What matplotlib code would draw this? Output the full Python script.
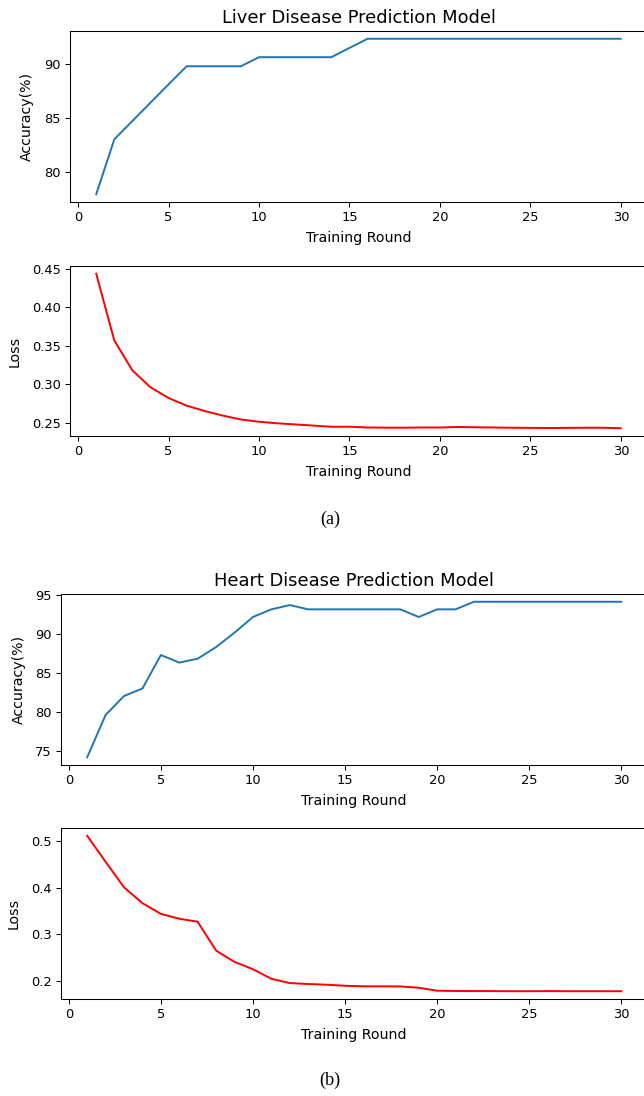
import numpy as np
import matplotlib
matplotlib.use("Agg")
import matplotlib.pyplot as plt

# training rounds
rounds = list(range(1, 31))

# (a) liver disease model
liver_acc = [77.9, 83.0, 84.7, 86.4, 88.1, 89.78, 89.78, 89.78, 89.78, 90.62,
             90.62, 90.62, 90.62, 90.62, 91.48, 92.33, 92.33, 92.33, 92.33, 92.33,
             92.33, 92.33, 92.33, 92.33, 92.33, 92.33, 92.33, 92.33, 92.33, 92.33]
liver_loss = [0.444, 0.357, 0.318, 0.296, 0.282, 0.272, 0.265, 0.259, 0.254, 0.251,
              0.249, 0.2475, 0.246, 0.2445, 0.2445, 0.2435, 0.2433, 0.2433, 0.2435, 0.2435,
              0.2442, 0.2438, 0.2435, 0.2432, 0.243, 0.2428, 0.243, 0.2432, 0.2432, 0.2425]

# (b) heart disease model
heart_acc = [74.24, 79.66, 82.08, 83.05, 87.33, 86.36, 86.86, 88.35, 90.2, 92.2,
             93.18, 93.73, 93.18, 93.18, 93.18, 93.18, 93.18, 93.18, 92.2, 93.18,
             93.18, 94.15, 94.15, 94.15, 94.15, 94.15, 94.15, 94.15, 94.15, 94.15]
heart_loss = [0.512, 0.456, 0.401, 0.367, 0.344, 0.3335, 0.327, 0.265, 0.2406, 0.225,
              0.2043, 0.195, 0.193, 0.1915, 0.1893, 0.188, 0.188, 0.1878, 0.185, 0.1786,
              0.178, 0.1778, 0.1778, 0.1775, 0.1775, 0.1778, 0.1775, 0.1775, 0.1775, 0.1775]

W, H = 644, 1096
DPI = 94
fig = plt.figure(figsize=(W / DPI, H / DPI), dpi=DPI)

LABEL_FS = 10.8
TITLE_FS = 13.7


def add_ax(left, right, top, bottom):
    # pixel box -> figure fraction
    return fig.add_axes([left / W, 1 - bottom / H, (right - left) / W, (bottom - top) / H])


def style(ax, ylabel, title=None):
    ax.set_xticks([0, 5, 10, 15, 20, 25, 30])
    ax.set_xlabel('Training Round', fontsize=LABEL_FS, labelpad=5.5)
    ax.set_ylabel(ylabel, fontsize=LABEL_FS, labelpad=8)
    if title:
        ax.set_title(title, fontsize=TITLE_FS)


ax1 = add_ax(70, 647, 31, 202)
ax1.plot(rounds, liver_acc, color='#1f77b4')
style(ax1, 'Accuracy(%)', 'Liver Disease Prediction Model')

ax2 = add_ax(70, 647, 266, 436)
ax2.plot(rounds, liver_loss, color='red')
style(ax2, 'Loss')

ax3 = add_ax(60.5, 648, 594, 765)
ax3.plot(rounds, heart_acc, color='#1f77b4')
style(ax3, 'Accuracy(%)', 'Heart Disease Prediction Model')

ax4 = add_ax(60.5, 648, 828, 999)
ax4.plot(rounds, heart_loss, color='red')
style(ax4, 'Loss')

ax3.yaxis.labelpad = 7

fig.text(330 / W, 1 - 519 / H, '(a)', ha='center', va='center',
         family='Liberation Serif', fontsize=14)
fig.text(330 / W, 1 - 1080 / H, '(b)', ha='center', va='center',
         family='Liberation Serif', fontsize=14)

fig.savefig('out.png', dpi=DPI)
